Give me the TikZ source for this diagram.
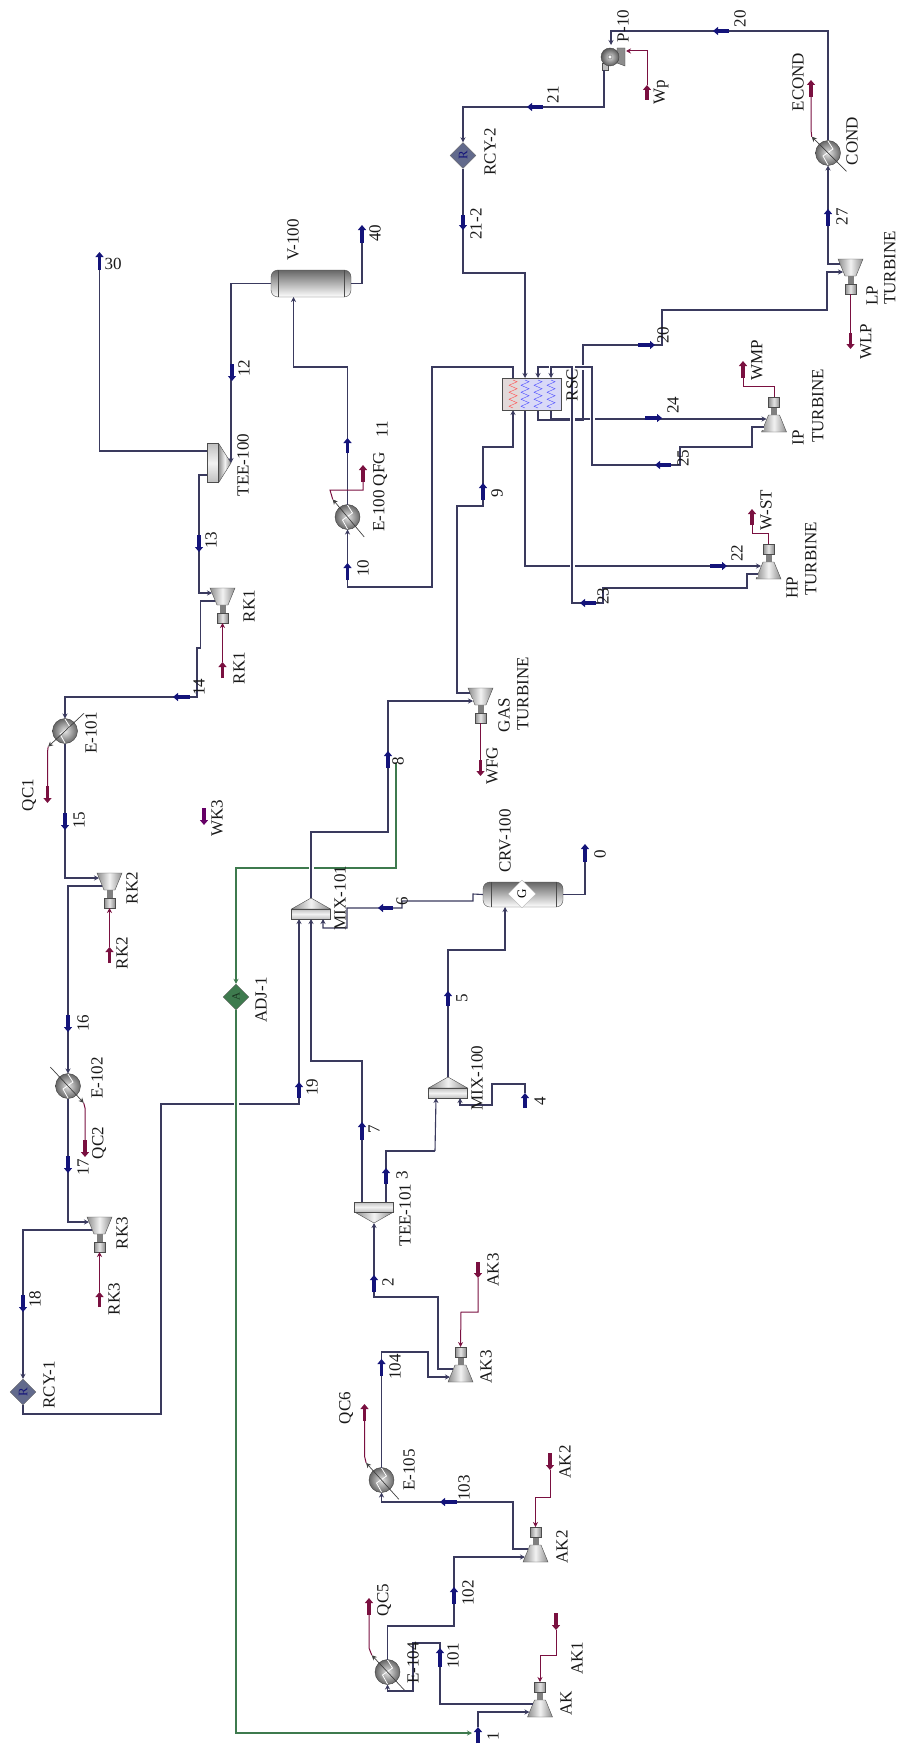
\documentclass[tikz,border=0pt]{standalone}
\usepackage{fontspec}
\setmainfont{Liberation Serif}
\usetikzlibrary{arrows.meta,shapes.geometric,decorations.pathmorphing}

\definecolor{strm}{HTML}{3A3A5E}
\definecolor{mkblue}{HTML}{14147A}
\definecolor{mkred}{HTML}{7A1040}
\definecolor{adjgreen}{HTML}{3E7A4E}
\definecolor{rcyblue}{HTML}{626A8C}

\tikzset{
    >={Stealth[length=5pt,width=5pt]},
    ln/.style={draw=strm, line width=1.1pt},
    la/.style={ln, ->},
    over/.style={preaction={draw=white, line width=5pt, arrows=-}},
    en/.style={draw=mkred, line width=1pt},
    ea/.style={en, ->},
    grn/.style={draw=adjgreen, line width=1.1pt},
    mkb/.style={draw=mkblue, line width=3.5pt, -{Triangle[length=5pt,width=8pt]}},
    mkr/.style={draw=mkred, line width=3.5pt, -{Triangle[length=5pt,width=8pt]}},
    lbl/.style={rotate=90, inner sep=0pt, text=black!90, font=\fontsize{17}{17}\selectfont},
    vessel/.style={draw=black!70, rounded corners=7pt, top color=black!60, bottom color=white, minimum width=80pt, inner sep=0pt},
    logic/.style={diamond, draw=black!60, minimum width=26pt, minimum height=26pt, inner sep=0pt},
    turbo/.pic={
        \shade[draw=black!70, left color=black!45, right color=black!45, middle color=black!5] (-12.5,0) -- (12.5,0) -- (5.5,17) -- (-5.5,17) -- cycle;
        \fill[black!50] (-3,17) rectangle (3,25);
        \shade[draw=black!70, left color=black!45, right color=black!45, middle color=black!10] (-5.5,25) rectangle (5.5,35);
        \coordinate (-hi) at (-10.5,5);
        \coordinate (-lo) at (-7.5,13);
        \coordinate (-shaft) at (0,35);
    },
    mixer/.pic={
        \shade[draw=black!70, left color=black!45, right color=black!45, middle color=black!5] (0,0) -- (19.5,11) -- (-19.5,11) -- cycle;
        \shade[draw=black!70, top color=black!25, bottom color=black!25, middle color=black!5] (-19.5,11) rectangle (19.5,21);
        \coordinate (-top) at (0,0);
        \coordinate (-a) at (-12,21);
        \coordinate (-b) at (0,21);
        \coordinate (-c) at (12,21);
    },
    heater/.pic={
        \shade[draw=black!75, inner color=black!10, outer color=black!60] (0,0) circle (12.5);
        \draw[white, line width=0.8pt] (0,-12) -- (5,-4) -- (-5,3) -- (0,12);
        \draw[black!75, line width=0.7pt, ->] ({#1+180}:26) -- (#1:23);
        \coordinate (-n) at (0,-12.5);
        \coordinate (-s) at (0,12.5);
        \coordinate (-q) at (#1:23);
    },
    pump/.pic={
        \fill[black!45, draw=black!70] (7,-9) -- (15,-9) -- (15,9) -- (7,6) -- cycle;
        \fill[black!25, draw=black!70] (-8,6) rectangle (-2,13);
        \shade[draw=black!75, inner color=black!15, outer color=black!65] (0,0) circle (9);
        \fill[white, draw=black!60] (0,0) circle (2);
        \coordinate (-in) at (1,-12);
        \coordinate (-out) at (-6,13);
        \coordinate (-pwr) at (16,-6);
    }
}

\begin{document}
\begin{tikzpicture}[x=1pt,y=-1pt]
    \useasboundingbox (0,0) rectangle (897,1747);

    % Free ends
    \coordinate (e30) at (99.5,255);
    \coordinate (e40) at (362,228);
    \coordinate (V100in) at (293.5,297);
    \coordinate (CRVin) at (505,907);
    \coordinate (e0) at (585,848);
    \coordinate (g8) at (396,763);
    \coordinate (e1) at (472,1733);
    \coordinate (s1) at (478,1727);
    \coordinate (s4) at (525,1093);

    % Ports of the heat recovery unit
    \coordinate (RSCh1) at (513,410);
    \coordinate (RSCh2) at (513,378);
    \coordinate (RSCc1) at (525,378);
    \coordinate (RSCc2) at (538,378);
    \coordinate (RSCc3) at (551,378);
    \coordinate (RSCb1) at (525,410);
    \coordinate (RSCb2) at (538,410);
    \coordinate (RSCb3) at (551,410);

    % Equipment
    \node[vessel, minimum height=27pt] (V100) at (311,283.5) {};
    \node[vessel, minimum height=25pt] (CRV100) at (523,894.5) {};
    \node[logic, fill=rcyblue] (RCY2) at (463,155.5) {};
    \node[logic, fill=rcyblue] (RCY1) at (23,1392) {};
    \node[logic, fill=adjgreen] (ADJ1) at (236,997) {};

    \pic (RK1) at (222.5,588) {turbo};
    \pic (RK2) at (109.5,873) {turbo};
    \pic (RK3) at (99.5,1217) {turbo};
    \pic (GT) at (480.5,688) {turbo};
    \pic (LP) at (850.5,259) {turbo};
    \pic[yscale=-1] (IP) at (774,432) {turbo};
    \pic[yscale=-1] (HP) at (768.5,579) {turbo};
    \pic[yscale=-1] (AK3) at (460.5,1382) {turbo};
    \pic[yscale=-1] (AK2) at (535.5,1562) {turbo};
    \pic[yscale=-1] (AK) at (540,1717) {turbo};

    \pic (MIX101) at (311,898) {mixer};
    \pic (MIX100) at (448,1077) {mixer};
    \pic[yscale=-1] (TEE101) at (374,1223) {mixer};
    \pic[rotate=-90, yscale=1.12] (TEE100) at (231,463) {mixer};

    \pic (E100) at (347.5,517) {heater=230};
    \pic (E101) at (65,731) {heater=137};
    \pic (E102) at (68,1086) {heater=47};
    \pic (E105) at (381.5,1480) {heater=228};
    \pic (E104) at (387.5,1672) {heater=227};
    \pic (COND) at (828,153) {heater=225};
    \pic (P10) at (610,57) {pump};

    % Gas side streams
    \draw[ln] (TEE100-a) -| (e30);
    \draw[la] (V100.west) -| (TEE100-top);
    \draw[ln] (V100.east) -| (e40);
    \draw[la] (E100-n) -- (347.5,367) -| (V100in);
    \draw[la] (RSCh2) -- (513,367) -- (432,367) -- (432,587) -| (E100-s);
    \draw[la] (GT-hi) -- (457,693) -- (457,506) -- (483,506) -- (483,447) -| (RSCh1);
    \draw[la] (TEE100-c) -- (199,475) |- (RK1-hi);
    \draw[la] (RK1-lo) -- (200.7,601) -- (200.7,648) -- (197,648) -- (197,697) -| (E101-n);
    \draw[la] (E101-s) |- (RK2-hi);
    \draw[la] (RK2-lo) -- (68,886) -- (E102-n);
    \draw[la] (E102-s) |- (RK3-hi);
    \draw[la] (RK3-lo) -- (23,1230) -- (RCY1.north);

    % Adjust line
    \draw[grn, ->] (g8) -- (396,868) -| (ADJ1.north);
    \draw[la] (RCY1.south) -- (23,1414) -- (161,1414) -- (161,1104) -- (299,1104) -- (MIX101-a);
    \draw[grn, over, ->] (ADJ1.south) |- (e1);
    \draw[la, over] (MIX101-top) -- (311,832) -- (388,832) |- (GT-lo);

    % Air side streams
    \draw[la] (s1) |- (AK-hi);
    \draw[la] (AK-lo) -- (440,1704) -- (440,1643) -- (413,1643) -- (413,1691) -| (E104-s);
    \draw[la] (E104-n) -- (387.5,1626) -- (454,1626) |- (AK2-hi);
    \draw[la] (AK2-lo) -- (513,1549) -- (513,1502) -| (E105-s);
    \draw[la] (E105-n) -- (381.5,1352) -- (428,1352) |- (AK3-hi);
    \draw[la] (AK3-lo) -- (438,1369) -- (438,1297) -- (374,1297) -- (TEE101-top);
    \draw[la] (TEE101-a) -- (362,1061) -- (311,1061) -- (MIX101-b);
    \draw[ln] (TEE101-c) -- (386,1151) -- (435,1151);
    \draw[la] (435,1151) -- (MIX100-a);
    \draw[la] (s4) -- (525,1084) -- (492,1084) -- (492,1105) -- (460,1105) -- (MIX100-c);
    \draw[la] (MIX100-top) -- (448,950) -- (505,950) -- (CRVin);
    \draw[la] (CRV100.west) -- (473,894) -- (473,901) -- (402,901) -- (402,908) -- (347,908) -- (347,928) -| (MIX101-c);
    \draw[ln] (CRV100.east) -| (e0);

    % Steam cycle
    \draw[la] (COND-n) -- (828,31) -| (P10-in);
    \draw[la] (LP-hi) -| (COND-s);
    \draw[la] (P10-out) -- (604,107) -- (463,107) -- (RCY2.north);
    \draw[la] (RCY2.south) -- (463,273) -- (525,273) -- (RSCc1);
    \draw[la] (RSCb3) |- (IP-lo);
    \draw[la] (RSCb1) |- (HP-lo);
    \draw[la] (RSCb2) -- (538,420) -- (583,420) -- (583,345) -- (662,345) -- (662,310) -- (827,310) |- (LP-lo);
    \draw[la, over] (IP-hi) -- (752,427) -- (752,447) -- (680,447) -- (680,465) -- (592,465) -- (592,367) -- (538,367) -- (RSCc2);
    \draw[la, over] (HP-hi) -- (747,574) -- (747,588) -- (603,588) -- (603,603) -- (572,603) -- (572,367) -- (551,367) -- (RSCc3);

    % Heat recovery unit
    \node[draw=black!70, line width=1pt, fill=black!20!blue!15, minimum width=59pt, minimum height=32pt, inner sep=0pt] (RSC) at (531.5,394) {};
    \fill[red!25!black!15] (502.5,378.5) rectangle (520,409.5);
    \draw[red!70, decorate, decoration={zigzag, segment length=7pt, amplitude=4pt}] (513,380) -- (513,408);
    \draw[blue!70, decorate, decoration={zigzag, segment length=7pt, amplitude=4pt}] (525,380) -- (525,408);
    \draw[blue!70, decorate, decoration={zigzag, segment length=7pt, amplitude=4pt}] (538,380) -- (538,408);
    \draw[blue!70, decorate, decoration={zigzag, segment length=7pt, amplitude=4pt}] (551,380) -- (551,408);

    % Vessel ends and logic letters
    \draw[black!70] (278,270) -- (278,297);
    \draw[black!70] (344,270) -- (344,297);
    \draw[black!70] (491,882) -- (491,907);
    \draw[black!70] (556,882) -- (556,907);
    \node[diamond, draw=black!30, fill=white, minimum width=28pt, minimum height=28pt, inner sep=0pt, rotate=90, font=\fontsize{13}{13}\selectfont] (CRVg) at (522,894) {G};
    \node[rotate=90, text=mkblue, inner sep=0pt, font=\fontsize{13}{13}\selectfont] (RCY2t) at (463,155.5) {R};
    \node[rotate=90, text=mkblue, inner sep=0pt, font=\fontsize{13}{13}\selectfont] (RCY1t) at (23,1392) {R};
    \node[rotate=90, text=adjgreen!40!black, inner sep=0pt, font=\fontsize{11}{11}\selectfont] (ADJ1t) at (236,997) {A};

    % Energy streams
    \draw[ea] (647,85) |- (P10-pwr);
    \draw[en] (COND-q) -- (811,130) -- (811,97);
    \draw[en] (LP-shaft) -- (850.5,333);
    \draw[en] (IP-shaft) -- (774,386) -- (743,386) -- (743,378);
    \draw[en] (HP-shaft) -- (768.5,533) -- (752,533) -- (752,525);
    \draw[en] (GT-shaft) -- (480.5,760);
    \draw[ea] (222.5,662) -- (RK1-shaft);
    \draw[ea] (109.5,947) -- (RK2-shaft);
    \draw[ea] (99.5,1292) -- (RK3-shaft);
    \draw[en] (E100-q) -- (330,490) -- (363,490) -- (363,482);
    \draw[en] (E101-q) -- (47.5,752) -- (47.5,786);
    \draw[en] (E102-q) -- (85,1108) -- (85,1140);
    \draw[en] (E105-q) -- (364.5,1456) -- (364.5,1421);
    \draw[en] (E104-q) -- (369,1648) -- (369,1615);
    \draw[ea] (478,1278) -- (478,1312) -- (461,1312) -- (AK3-shaft);
    \draw[ea] (550,1470) -- (550,1497) -- (535.5,1497) -- (AK2-shaft);
    \draw[ea] (556,1630) -- (556,1655) -- (540,1655) -- (AK-shaft);

    % Stream marks
    \draw[mkb] (99.5,270) -- (99.5,252);
    \draw[mkb] (232,364) -- (232,381);
    \draw[mkb] (362,243) -- (362,225);
    \draw[mkb] (347.5,453) -- (347.5,438);
    \draw[mkb] (347.5,580) -- (347.5,563);
    \draw[mkb] (483,500) -- (483,483);
    \draw[mkb] (388,768) -- (388,751);
    \draw[mkb] (199,535) -- (199,552);
    \draw[mkb] (190,697) -- (173,697);
    \draw[mkb] (65,813) -- (65,830);
    \draw[mkb] (68,1015) -- (68,1032);
    \draw[mkb] (68,1156) -- (68,1173);
    \draw[mkb] (23,1295) -- (23,1312);
    \draw[mkb] (299,1098) -- (299,1082);
    \draw[mkb] (362,1140) -- (362,1122);
    \draw[mkb] (386,1184) -- (386,1168);
    \draw[mkb] (374,1292) -- (374,1275);
    \draw[mkb] (448,1006) -- (448,991);
    \draw[mkb] (393,908) -- (378,908);
    \draw[mkb] (525,1108) -- (525,1093);
    \draw[mkb] (585,862) -- (585,844);
    \draw[mkb] (381.5,1376) -- (381.5,1359);
    \draw[mkb] (457,1502) -- (440,1502);
    \draw[mkb] (454,1604) -- (454,1587);
    \draw[mkb] (440,1667) -- (440,1648);
    \draw[mkb] (478,1743) -- (478,1727);
    \draw[mkb] (543,107) -- (527,107);
    \draw[mkb] (463,215) -- (463,230);
    \draw[mkb] (729,31) -- (713,31);
    \draw[mkb] (828,226) -- (828,209);
    \draw[mkb] (638,345) -- (655,345);
    \draw[mkb] (645,418) -- (662,418);
    \draw[mkb] (671,465) -- (655,465);
    \draw[mkb] (710,566) -- (727,566);
    \draw[mkb] (596,603) -- (580,603);

    \draw[mkr] (647,100) -- (647,85);
    \draw[mkr] (811,97) -- (811,80);
    \draw[mkr] (850.5,333) -- (850.5,349);
    \draw[mkr] (743,378) -- (743,361);
    \draw[mkr] (752,525) -- (752,509);
    \draw[mkr] (480.5,760) -- (480.5,776);
    \draw[mkr] (222.5,678) -- (222.5,662);
    \draw[mkr] (109.5,963) -- (109.5,947);
    \draw[mkr] (99.5,1307) -- (99.5,1292);
    \draw[mkr] (363,482) -- (363,465);
    \draw[mkr] (47.5,786) -- (47.5,803);
    \draw[mkr] (85,1140) -- (85,1157);
    \draw[mkr] (364.5,1421) -- (364.5,1404);
    \draw[mkr] (369,1615) -- (369,1598);
    \draw[mkr] (478,1262) -- (478,1278);
    \draw[mkr] (550,1453) -- (550,1470);
    \draw[mkr] (556,1613) -- (556,1630);
    \draw[mkr, draw=violet!80!black] (204,808) -- (204,825);

    % Labels
    \node[lbl, rotate=-90] (t30) at (113,264) {30};
    \node[lbl] (tV100) at (293,240) {V-100};
    \node[lbl] (t40) at (375,233) {40};
    \node[lbl] (t12) at (244,368) {12};
    \node[lbl] (t11) at (382,429) {11};
    \node[lbl] (tTEE100) at (243,465) {TEE-100};
    \node[lbl] (tE100) at (380,492) {E-100 QFG};
    \node[lbl] (t10) at (363,568) {10};
    \node[lbl] (t13) at (211,540) {13};
    \node[lbl] (tRK1a) at (249,606) {RK1};
    \node[lbl] (tRK1b) at (239,668) {RK1};
    \node[lbl] (t14) at (199,687) {14};
    \node[lbl] (tE101) at (91,733) {E-101};
    \node[lbl] (tQC1) at (29,795) {QC1};
    \node[lbl] (t15) at (79,820) {15};
    \node[lbl] (tWK3) at (217,818) {WK3};
    \node[lbl] (t8) at (398,761) {8};
    \node[lbl] (tRK2a) at (132,888) {RK2};
    \node[lbl] (tRK2b) at (122,953) {RK2};
    \node[lbl] (tMIX101) at (340,898) {MIX-101};
    \node[lbl] (tADJ1) at (261,1000) {ADJ-1};
    \node[lbl] (t16) at (83,1023) {16};
    \node[lbl] (tE102) at (97,1078) {E-102};
    \node[lbl] (t19) at (312,1087) {19};
    \node[lbl] (t17) at (83,1167) {17};
    \node[lbl] (tQC2) at (99,1143) {QC2};
    \node[lbl] (t7) at (374,1129) {7};
    \node[lbl] (t3) at (402,1175) {3};
    \node[lbl] (tTEE101) at (405,1215) {TEE-101};
    \node[lbl] (t2) at (388,1282) {2};
    \node[lbl] (t6) at (402,901) {6};
    \node[lbl] (tCRV100) at (505,841) {CRV-100};
    \node[lbl] (t0) at (600,854) {0};
    \node[lbl] (t5) at (462,998) {5};
    \node[lbl] (tMIX100) at (477,1078) {MIX-100};
    \node[lbl] (t4) at (540,1101) {4};
    \node[lbl] (tGAS) at (504,715) {GAS};
    \node[lbl] (tGT) at (523,694) {TURBINE};
    \node[lbl] (tWFG) at (492,766) {WFG};
    \node[lbl] (t9) at (497,493) {9};
    \node[lbl] (tRSC) at (572,385) {RSC};
    \node[lbl] (t212) at (476,224) {21-2};
    \node[lbl] (tRCY2) at (490,152) {RCY-2};
    \node[lbl] (t21) at (553,95) {21};
    \node[lbl] (tP10) at (623,26) {P-10};
    \node[lbl] (tWp) at (661,92) {Wp};
    \node[lbl] (t20a) at (740,19) {20};
    \node[lbl] (tECOND) at (798,82) {ECOND};
    \node[lbl] (tCOND) at (852,141) {COND};
    \node[lbl] (t27) at (842,217) {27};
    \node[lbl] (tLP) at (872,296) {LP};
    \node[lbl] (tLPT) at (890,268) {TURBINE};
    \node[lbl] (tWLP) at (866,342) {WLP};
    \node[lbl] (t20b) at (663,335) {20};
    \node[lbl] (tWMP) at (757,360) {WMP};
    \node[lbl] (t24) at (673,405) {24};
    \node[lbl] (t25) at (683,458) {25};
    \node[lbl] (tIP) at (798,438) {IP};
    \node[lbl] (tIPT) at (818,406) {TURBINE};
    \node[lbl] (t22) at (737,553) {22};
    \node[lbl] (t23) at (603,596) {23};
    \node[lbl] (tWST) at (766,510) {W-ST};
    \node[lbl] (tHP) at (792,588) {HP};
    \node[lbl] (tHPT) at (811,559) {TURBINE};
    \node[lbl] (tRK3a) at (122,1233) {RK3};
    \node[lbl] (tRK3b) at (114,1299) {RK3};
    \node[lbl] (t18) at (35,1299) {18};
    \node[lbl] (tRCY1) at (49,1385) {RCY-1};
    \node[lbl] (tAK3a) at (493,1270) {AK3};
    \node[lbl] (tAK3b) at (486,1367) {AK3};
    \node[lbl] (t104) at (395,1367) {104};
    \node[lbl] (tQC6) at (346,1408) {QC6};
    \node[lbl] (tE105) at (409,1470) {E-105};
    \node[lbl] (t103) at (464,1488) {103};
    \node[lbl] (tAK2a) at (565,1462) {AK2};
    \node[lbl] (tAK2b) at (562,1547) {AK2};
    \node[lbl] (t102) at (468,1593) {102};
    \node[lbl] (tQC5) at (384,1600) {QC5};
    \node[lbl] (tE104) at (413,1663) {E-104};
    \node[lbl] (t101) at (453,1656) {101};
    \node[lbl] (tAK1) at (577,1658) {AK1};
    \node[lbl] (tAK) at (566,1703) {AK};
    \node[lbl] (t1) at (493,1736) {1};
\end{tikzpicture}
\end{document}
